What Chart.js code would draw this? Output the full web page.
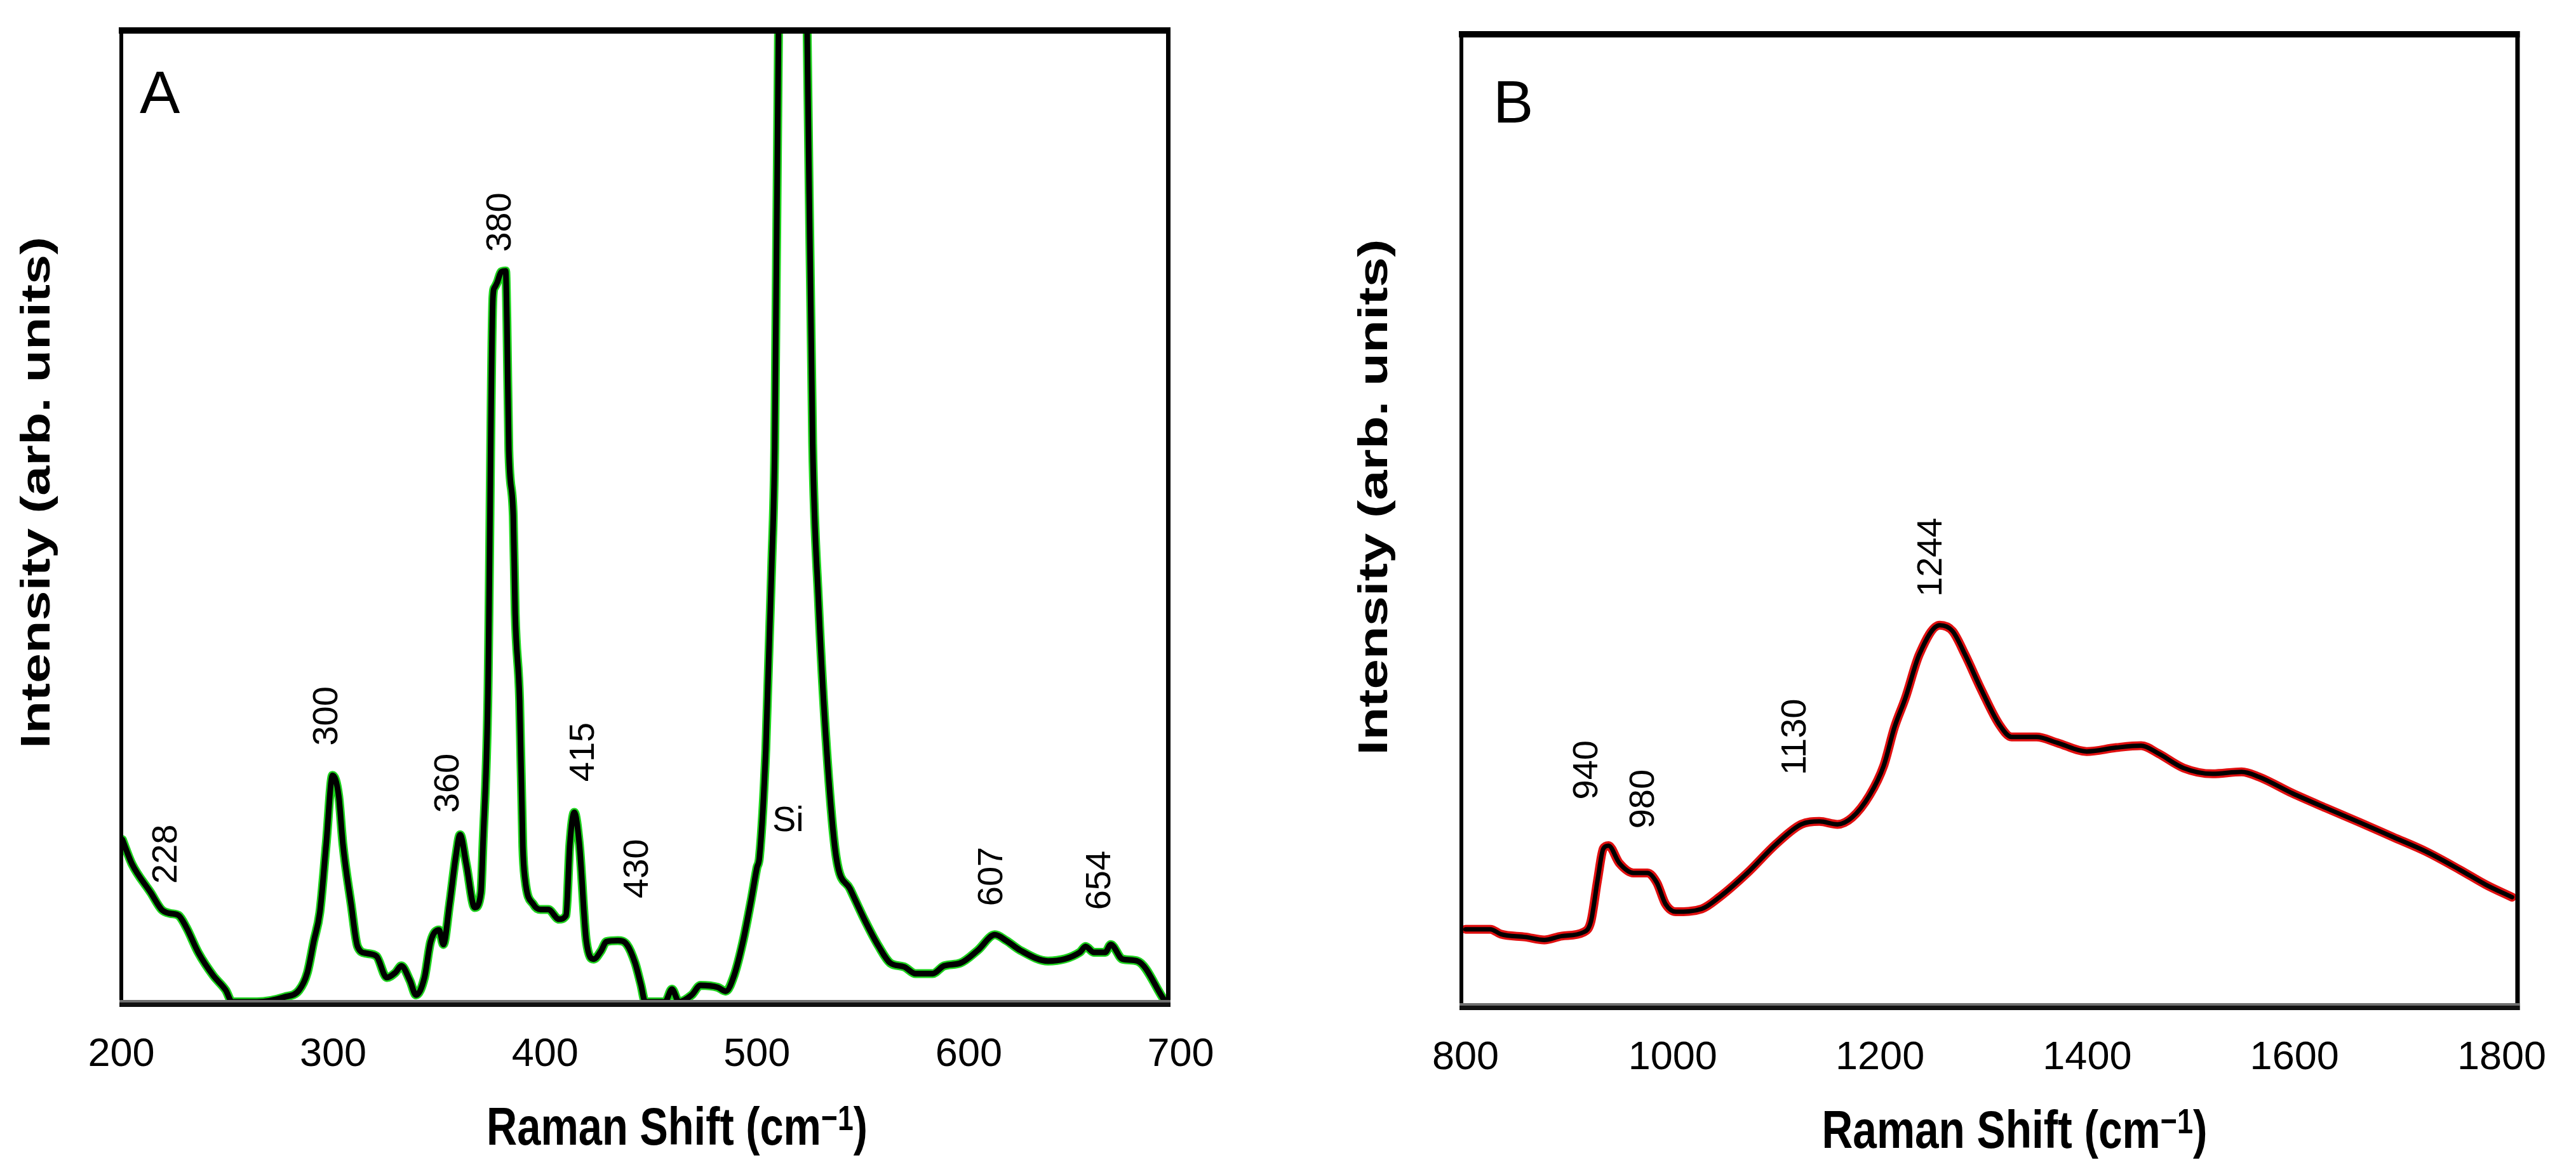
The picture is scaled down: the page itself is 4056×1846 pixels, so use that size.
<!DOCTYPE html>
<html>
<head>
<meta charset="utf-8">
<script src="https://cdn.jsdelivr.net/npm/chart.js@4.4.1/dist/chart.umd.min.js"></script>
<style>
  html, body { margin: 0; padding: 0; background: #fff; }
  #wrap { position: relative; width: 4056px; height: 1846px; }
  .panel { position: absolute; top: 0; height: 1846px; }
  #boxA { left: 0; width: 2030px; }
  #boxB { left: 2030px; width: 2026px; }
</style>
</head>
<body>
<div id="wrap">
  <div class="panel" id="boxA"><canvas id="chartA" width="2030" height="1846"></canvas></div>
  <div class="panel" id="boxB"><canvas id="chartB" width="2026" height="1846"></canvas></div>
</div>
<script>
// Panel A: Raman shift (cm-1) and intensity (arb. units, 0-100 of the frame height)
const shiftA = [200.5, 205, 214, 219, 223, 227, 230.6, 236.5, 243.4, 249.3, 252.3, 264, 277, 283.9, 287.8,
  290.8, 293.7, 296.7, 299.7, 302.6, 304.6, 308.5, 311.5, 315.5, 320.4, 325.3, 329.3, 332.2, 336.2, 339.1,
  343.1, 346, 350, 352, 354.9, 357.9, 359.9, 362.8, 366.8, 369.7, 370.7, 373, 375.4, 376.2, 377.4, 379.3,
  381.4, 382, 382.9, 385, 385.9, 388, 389.5, 390.5, 394.6, 397.9, 401.5, 406.6, 409.9, 411.7, 413.8, 416.2,
  419.5, 423, 426.3, 429, 434.4, 438.6, 442.5, 445.2, 447.3, 456.6, 459.9, 463.2, 469.2, 473.4, 481.4, 485.3,
  489.2, 493.4, 497.3, 500, 501.2, 504.2, 507, 508.4, 510.2, 517, 523.7, 526.3, 529, 532.9, 537.4, 544,
  550.9, 557.5, 562.9, 569.5, 574.9, 582.9, 588.3, 596.1, 604.2, 612.3, 617.7, 624.3, 637.4, 652.4, 655.1,
  659, 664.4, 667, 672.5, 679.6, 691.9];
const intensityA = [16.7, 14.2, 11.2, 9.5, 9.1, 8.9, 7.7, 5.0, 2.7, 1.2, 0, 0, 0.5, 1.2, 3.0,
  6.2, 9.2, 16.2, 23.3, 21.2, 16.2, 10.0, 5.7, 5.0, 4.7, 2.5, 3.0, 3.7, 2.2, 0.7,
  2.5, 6.2, 7.4, 5.9, 10.0, 15.0, 17.2, 14.2, 9.7, 11.2, 16.2, 31, 72.5, 73.5, 74, 75.1,
  75.2, 70, 56.8, 50, 40, 31, 16, 12.7, 10.0, 9.5, 9.5, 8.5, 8.9, 16.2, 19.5, 16.2,
  6.2, 4.4, 5.2, 6.2, 6.3, 5.9, 4.0, 1.8, 0, 0, 1.3, 0, 0.7, 1.7, 1.5, 1.1,
  2.7, 6.2, 10.5, 13.8, 14.9, 26, 45, 57, 100, 200, 100, 57.4, 41.5, 26, 14.9, 11.6,
  8.4, 5.7, 4.0, 3.6, 2.9, 2.9, 3.7, 4.0, 5.3, 6.9, 6.3, 5.3, 4.2, 5.1, 5.7,
  5.1, 5.1, 5.9, 4.4, 4.2, 0.3];
const ticksA = [200, 300, 400, 500, 600, 700];
const peakTextA = ['228', '300', '360', '380', '415', '430', 'Si', '607', '654'];
const peakXA = [221.6, 297.3, 354.5, 379, 418.3, 444, 514.7, 611, 662];
const peakYA = [15.2, 29.4, 22.5, 80.2, 25.7, 13.7, 18.6, 12.9, 12.5];

// Panel B
const shiftB = [800, 824, 834, 858, 876, 893, 914, 921, 927.5, 933, 938, 948.5, 962, 975.6, 984.6, 993,
  1003, 1028, 1045, 1072, 1100, 1124, 1141.5, 1159, 1173, 1190, 1203.5, 1214, 1224.5, 1238, 1257.6, 1270,
  1282, 1298.5, 1315, 1327, 1351, 1371, 1399.5, 1428, 1452, 1468.6, 1493, 1521, 1549, 1565.5, 1598, 1630,
  1663, 1695, 1727, 1760, 1784.5, 1810];
const intensityB = [7.8, 7.8, 7.3, 7.0, 6.7, 7.1, 7.5, 8.6, 12.9, 16.1, 16.4, 14.6, 13.6, 13.6, 12.6, 10.4,
  9.6, 9.9, 11.1, 13.6, 16.6, 18.6, 18.9, 18.6, 19.3, 21.6, 24.6, 28.6, 31.6, 36.1, 39.1, 38.5,
  36.1, 32.3, 28.9, 27.6, 27.6, 27.0, 26.1, 26.5, 26.7, 25.9, 24.4, 23.8, 24.0, 23.5, 21.8, 20.3,
  18.8, 17.3, 15.8, 13.9, 12.4, 11.1];
const ticksB = [800, 1000, 1200, 1400, 1600, 1800];
const peakTextB = ['940', '980', '1130', '1244'];
const peakXB = [917.6, 972.5, 1119, 1250];
const peakYB = [24.2, 21.2, 27.6, 46.1];

const FONT = '"Liberation Sans", Arial, Helvetica, sans-serif';

// draws pieces [text, size, rise] in bold, squeezed/stretched to the given width, centred on 0
function fitText(ctx, parts, width) {
  let total = 0;
  parts.forEach(p => {
    ctx.font = 'bold ' + p[1] + 'px ' + FONT;
    p.w = ctx.measureText(p[0]).width;
    total += p.w;
  });
  ctx.scale(width / total, 1);
  let x = -total / 2;
  parts.forEach(p => {
    ctx.font = 'bold ' + p[1] + 'px ' + FONT;
    ctx.fillText(p[0], x, -p[2]);
    x += p.w;
  });
}

const decor = {
  id: 'decor',
  afterDraw(chart, args, o) {
    const ctx = chart.ctx, ca = chart.chartArea;
    const xs = chart.scales.x, ys = chart.scales.y;
    ctx.save();
    ctx.fillStyle = '#000';

    // peak labels
    ctx.font = '56px ' + FONT;
    ctx.textAlign = 'center';
    ctx.textBaseline = 'middle';
    o.text.forEach((t, i) => {
      ctx.save();
      ctx.translate(xs.getPixelForValue(o.x[i]), ys.getPixelForValue(o.y[i]));
      if (t !== 'Si') ctx.rotate(-Math.PI / 2);
      ctx.fillText(t, 0, 0);
      ctx.restore();
    });

    // frame
    ctx.fillRect(ca.left - 4, ca.top - 4, ca.width + 8, 10);
    ctx.fillRect(ca.left - 3, ca.top - 4, 6, ca.height + 12);
    ctx.fillRect(ca.right - 3, ca.top - 4, 7, ca.height + 12);
    ctx.fillStyle = '#707070';
    ctx.fillRect(ca.left - 3, ca.bottom - 3, ca.width + 7, 4);
    ctx.fillStyle = '#111';
    ctx.fillRect(ca.left - 3, ca.bottom + 1, ca.width + 7, 7);

    // panel letter
    ctx.fillStyle = '#000';
    ctx.textAlign = 'left';
    ctx.textBaseline = 'alphabetic';
    ctx.font = '95px ' + FONT;
    ctx.fillText(o.letter, o.letterX, o.letterBase);

    // x title with superscript
    ctx.save();
    ctx.translate(o.xTitle[0], o.xTitle[1]);
    fitText(ctx, [['Raman Shift (cm', 84, 0], ['\u22121', 56, 23], [')', 84, 0]], o.xTitle[2]);
    ctx.restore();

    // y title
    ctx.save();
    ctx.translate(o.yTitle[0], o.yTitle[1]);
    ctx.rotate(-Math.PI / 2);
    fitText(ctx, [['Intensity (arb. units)', 64, 0]], o.yTitle[2]);
    ctx.restore();

    ctx.restore();
  }
};

function makeChart(id, shift, intensity, ticks, range, halo, coreW, pad, axisH, deco) {
  const pts = shift.map((x, i) => ({ x: x, y: intensity[i] }));
  const line = {
    pointRadius: 0,
    cubicInterpolationMode: 'monotone',
    borderJoinStyle: 'round',
    borderCapStyle: 'round',
    clip: { left: 0, top: 0, right: 0, bottom: 8 }
  };
  return new Chart(document.getElementById(id), {
    type: 'line',
    data: {
      datasets: [
        Object.assign({ data: pts, borderColor: halo, borderWidth: 14, order: 2 }, line),
        Object.assign({ data: pts, borderColor: '#000', borderWidth: coreW, order: 1 }, line)
      ]
    },
    options: {
      responsive: false,
      animation: false,
      devicePixelRatio: 1,
      layout: { padding: pad },
      plugins: { legend: { display: false }, tooltip: { enabled: false }, decor: deco },
      scales: {
        x: {
          type: 'linear',
          min: range[0],
          max: range[1],
          grid: { display: false, drawTicks: false },
          border: { display: false },
          afterBuildTicks: s => { s.ticks = ticks.map(v => ({ value: v })); },
          afterFit: s => { s.height = axisH; },
          ticks: {
            autoSkip: false,
            maxRotation: 0,
            padding: 46,
            color: '#000',
            font: { family: FONT, size: 63 },
            callback: v => String(v)
          }
        },
        y: { display: false, min: 0, max: 100 }
      }
    },
    plugins: [decor]
  });
}

makeChart('chartA', shiftA, intensityA, ticksA, [200, 694], '#1ed21e', 9,
  { left: 191, right: 191, top: 47, bottom: 0 }, 268,
  { text: peakTextA, x: peakXA, y: peakYA, letter: 'A', letterX: 220, letterBase: 178,
    xTitle: [1066, 1803, 600], yTitle: [78, 776, 806] });

makeChart('chartB', shiftB, intensityB, ticksB, [796, 1815], '#e01010', 7,
  { left: 271, right: 65, top: 53, bottom: 0 }, 263,
  { text: peakTextB, x: peakXB, y: peakYB, letter: 'B', letterX: 321, letterBase: 193,
    xTitle: [1142, 1808, 607], yTitle: [154, 783, 813] });
</script>
</body>
</html>
